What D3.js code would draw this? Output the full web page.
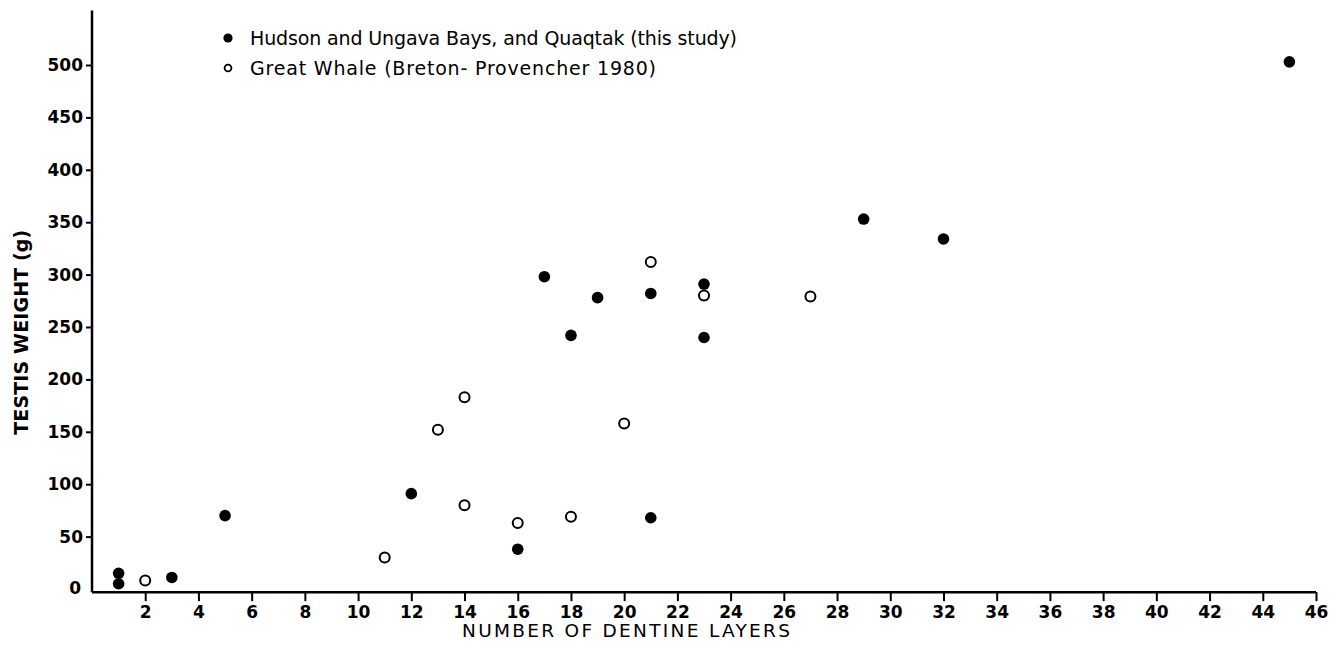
<!DOCTYPE html>
<html>
<head>
<meta charset="utf-8">
<script src="https://cdn.jsdelivr.net/npm/d3@7"></script>
<style>
  html, body { margin: 0; padding: 0; background: #fff; }
  svg { display: block; }
  text { font-family: "DejaVu Sans", "Liberation Sans", sans-serif; fill: #000; }
</style>
</head>
<body>
<svg id="chart" width="1342" height="658"></svg>
<script>
// ---- data ----
const hudsonLayers  = [1, 1, 3, 5, 12, 16, 17, 18, 19, 21, 21, 23, 23, 29, 32, 45];
const hudsonWeight  = [5, 15, 11, 70, 91, 38, 298, 242, 278, 282, 68, 291, 240, 353, 334, 503];
const whaleLayers   = [2, 11, 13, 14, 14, 16, 18, 20, 21, 23, 27];
const whaleWeight   = [8, 30, 152, 183, 80, 63, 69, 158, 312, 280, 279];
const xTickValues   = [2, 4, 6, 8, 10, 12, 14, 16, 18, 20, 22, 24, 26, 28, 30, 32, 34, 36, 38, 40, 42, 44, 46];
const yTickValues   = [50, 100, 150, 200, 250, 300, 350, 400, 450, 500];
const legendLabels  = ["Hudson and Ungava Bays, and Quaqtak (this study)", "Great Whale (Breton- Provencher 1980)"];
const xTitle = "NUMBER OF DENTINE LAYERS";
const yTitle = "TESTIS WEIGHT (g)";

const svg = d3.select("#chart");

const x = d3.scaleLinear().domain([0, 46]).range([92, 1316]);
const y = d3.scaleLinear().domain([0, 500]).range([589, 65]);

const axisY = y(-3);
const tickFont = 17;

// x axis
const gx = svg.append("g").attr("transform", `translate(0,${axisY})`)
  .call(d3.axisBottom(x).tickValues(xTickValues).tickSize(9).tickPadding(5).tickFormat(d3.format("d")));
gx.select(".domain").attr("d", `M${x(0)},0H${x(46)}`).attr("stroke", "#000").attr("stroke-width", 2.5);
gx.selectAll(".tick line").attr("stroke", "#000").attr("stroke-width", 2);
gx.selectAll(".tick text").attr("font-size", tickFont).attr("font-weight", "bold")
  .attr("font-family", "DejaVu Sans, sans-serif");

// y axis
const gy = svg.append("g").attr("transform", `translate(${x(0)},0)`)
  .call(d3.axisLeft(y).tickValues(yTickValues).tickSize(6).tickPadding(3).tickFormat(d3.format("d")));
gy.select(".domain").attr("d", `M0,${y(552)}V${axisY}`).attr("stroke", "#000").attr("stroke-width", 2.5);
gy.selectAll(".tick line").attr("stroke", "#000").attr("stroke-width", 2);
gy.selectAll(".tick text").attr("font-size", tickFont).attr("font-weight", "bold")
  .attr("font-family", "DejaVu Sans, sans-serif");
// zero label (no tick mark)
gy.append("text").attr("x", -11).attr("y", y(0)).attr("dy", "0.32em")
  .attr("text-anchor", "end").attr("font-size", tickFont).attr("font-weight", "bold").text("0");

// titles
svg.append("text").attr("x", 626).attr("y", 637).attr("text-anchor", "middle")
  .attr("font-size", 18.5).attr("textLength", 328).attr("lengthAdjust", "spacing").text(xTitle);
svg.append("text").attr("transform", `translate(28,${y(245)}) rotate(-90)`)
  .attr("text-anchor", "middle").attr("font-size", 19).attr("font-weight", "bold")
  .attr("textLength", 205).attr("lengthAdjust", "spacing").text(yTitle);

// points
const hudson = hudsonLayers.map((d, i) => ({ x: d, y: hudsonWeight[i] }));
const whale  = whaleLayers.map((d, i) => ({ x: d, y: whaleWeight[i] }));

svg.append("g").selectAll("circle").data(whale).join("circle")
  .attr("cx", d => x(d.x)).attr("cy", d => y(d.y)).attr("r", 5)
  .attr("fill", "#fff").attr("stroke", "#000").attr("stroke-width", 2);

svg.append("g").selectAll("circle").data(hudson).join("circle")
  .attr("cx", d => x(d.x)).attr("cy", d => y(d.y)).attr("r", 5.8)
  .attr("fill", "#000");

// legend
const leg = svg.append("g");
const legY = [38, 68];
const legLen = [487, 406];
leg.append("circle").attr("cx", 228).attr("cy", legY[0]).attr("r", 4.6).attr("fill", "#000");
leg.append("circle").attr("cx", 228).attr("cy", legY[1]).attr("r", 3.4)
  .attr("fill", "#fff").attr("stroke", "#000").attr("stroke-width", 1.8);
leg.selectAll("text").data(legendLabels).join("text")
  .attr("x", 250).attr("y", (d, i) => legY[i]).attr("dy", "0.36em")
  .attr("font-size", 19).attr("textLength", (d, i) => legLen[i]).attr("lengthAdjust", "spacing")
  .text(d => d);
</script>
</body>
</html>
